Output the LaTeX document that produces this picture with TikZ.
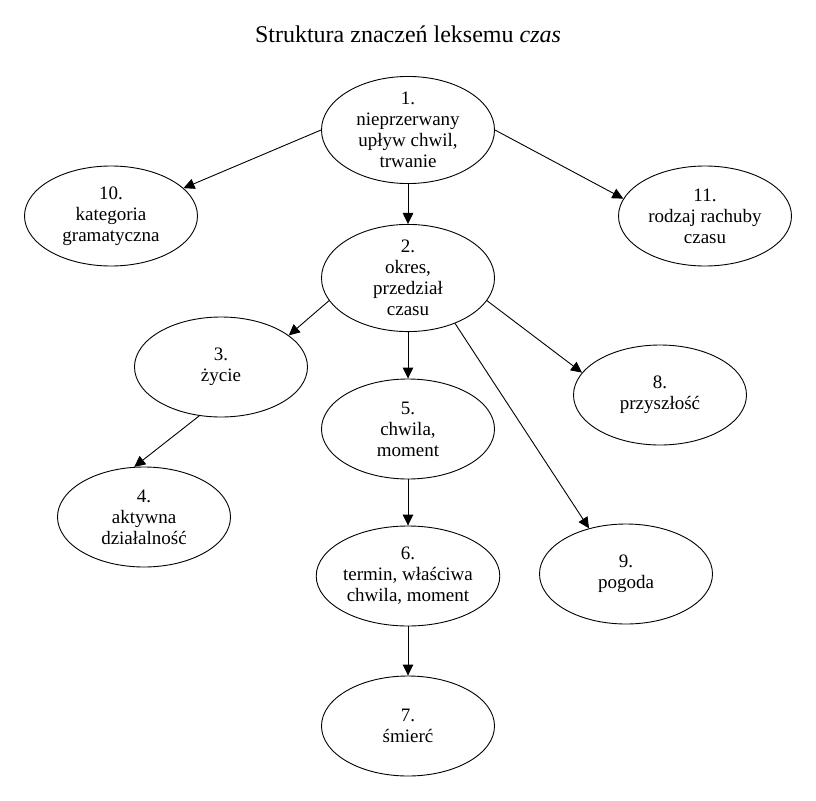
\documentclass[tikz,border=0pt]{standalone}
\usepackage{fontspec}
\setmainfont{Liberation Serif}
\usetikzlibrary{shapes.geometric,arrows.meta}
\begin{document}
\begin{tikzpicture}[x=1pt,y=-1pt,
  sense/.style={ellipse,draw,line width=0.9pt,minimum width=173pt,minimum height=100pt,inner sep=0pt,align=center,font=\fontsize{19}{21}\selectfont},
  link/.style={draw,line width=0.9pt,-{Triangle[length=11pt,width=10.5pt]}}]
\useasboundingbox (0,0) rectangle (816,800);
\node[font=\fontsize{24}{28}\selectfont] (title) at (408,34) {Struktura znaczeń leksemu \textit{czas}};
\node[sense] (n1) at (408,130) {1.\\nieprzerwany\\upływ chwil,\\trwanie};
\node[sense] (n10) at (111,216) {10.\\kategoria\\gramatyczna};
\node[sense] (n11) at (705,216) {11.\\rodzaj rachuby\\czasu};
\node[sense] (n2) at (408,278) {2.\\okres,\\przedział\\czasu};
\node[sense] (n3) at (221,367) {3.\\życie};
\node[sense] (n8) at (660,395) {8.\\przyszłość};
\node[sense] (n5) at (408,429) {5.\\chwila,\\moment};
\node[sense] (n4) at (144,517) {4.\\aktywna\\działalność};
\node[sense] (n6) at (408,576) {6.\\termin, właściwa\\chwila, moment};
\node[sense] (n9) at (626,574) {9.\\pogoda};
\node[sense] (n7) at (408,726) {7.\\śmierć};
\draw[link] (n1.180) -- (n10.21);
\draw[link] (n1.0) -- (n11.168);
\draw[link] (n1.south) -- (n2.north);
\draw[link] (n2.196) -- (n3.25);
\draw[link] (n2.south) -- (n5.north);
\draw[link] (n2.344) -- (n8.164);
\draw[link] (n2.-44) -- (n9.129);
\draw[link] (n3.246) -- (n4.101);
\draw[link] (n5.south) -- (n6.north);
\draw[link] (n6.south) -- (n7.north);
\end{tikzpicture}
\end{document}
